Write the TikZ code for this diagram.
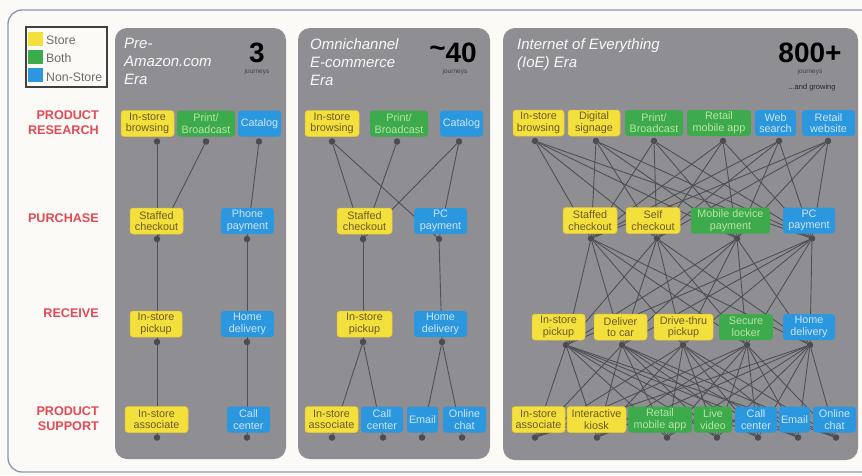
\documentclass[tikz,border=0pt]{standalone}
\usepackage{fontspec}
\setmainfont{Liberation Sans}
\pgfdeclarelayer{panels}
\pgfdeclarelayer{links}
\pgfsetlayers{panels,links,main}

\definecolor{pagebg}{HTML}{FBFAF6}
\definecolor{framec}{HTML}{8C94B4}
\definecolor{panelc}{HTML}{8F8F93}
\definecolor{cY}{HTML}{F4E03C}
\definecolor{cYe}{HTML}{E6C632}
\definecolor{tY}{HTML}{6A5B2A}
\definecolor{cG}{HTML}{3DAA4C}
\definecolor{tG}{HTML}{B8E4A8}
\definecolor{cB}{HTML}{2A97DE}
\definecolor{tB}{HTML}{CFE6F8}
\definecolor{edgec}{HTML}{4F5055}
\definecolor{dotc}{HTML}{4B4B50}
\definecolor{rowred}{HTML}{E24A55}
\definecolor{legtext}{HTML}{6C6C6C}

% a journey step: box plus its connection dot underneath
\newcommand{\jn}[7]{%
  \node[#2, minimum width=#5pt] (#1) at (#3,#4) {#6};
  \node[jdot] (#1d) at (#7,{#4+18}) {};
}

\begin{document}
\begin{tikzpicture}[x=1pt,y=-1pt,
  box/.style={rounded corners=3pt, minimum height=26pt, inner sep=1pt,
    align=center, font=\fontsize{10.8}{11.6}\selectfont},
  st/.style={box, fill=cY, draw=cYe, line width=0.5pt, text=tY},
  bo/.style={box, fill=cG, text=tG},
  ns/.style={box, fill=cB, text=tB},
  jdot/.style={circle, fill=dotc, inner sep=0pt, minimum size=6.5pt},
  link/.style={draw=edgec, line width=0.9pt},
  panel/.style={fill=panelc, rounded corners=12pt},
  era/.style={anchor=north west, inner sep=0pt, align=left, text=white!95!gray,
    font=\fontsize{15}{18}\selectfont\itshape},
  count/.style={anchor=base, inner sep=0pt, font=\fontsize{28}{28}\selectfont\bfseries},
  small/.style={anchor=base, inner sep=0pt, text=black!75, font=\fontsize{6.5}{7}\selectfont},
  rowlabel/.style={anchor=north east, inner sep=0pt, align=right, text=rowred,
    font=\fontsize{12.6}{15.5}\selectfont\bfseries},
  legsq/.style={minimum width=15pt, minimum height=14pt, inner sep=0pt},
  legtxt/.style={anchor=base west, inner sep=0pt, text=legtext, font=\fontsize{12.3}{13}\selectfont}
]
\useasboundingbox (0,0) rectangle (862,475);

\begin{pgfonlayer}{panels}
  \fill[pagebg] (0,0) rectangle (862,475);
  \draw[framec, line width=1.3pt, rounded corners=14pt] (8,10) rectangle (890,472);
  \fill[panel] (115,28) rectangle (286,459);
  \fill[panel] (298,28) rectangle (490,459);
  \fill[panel] (503,28) rectangle (858,460);
\end{pgfonlayer}

% legend
\draw[black!75, line width=1.1pt] (26,27) rectangle (107,87);
\node[legsq, fill=cY] (legY) at (35.5,39) {};
\node[legsq, fill=cG] (legG) at (35.5,57) {};
\node[legsq, fill=cB] (legB) at (35.5,75) {};
\node[legtxt] (legYt) at (46,44) {Store};
\node[legtxt] (legGt) at (46,62) {Both};
\node[legtxt] (legBt) at (46,81) {Non-Store};

% stage labels
\node[rowlabel] (lres) at (99,110) {PRODUCT\\RESEARCH};
\node[rowlabel] (lpur) at (99,213) {PURCHASE};
\node[rowlabel] (lrec) at (99,308) {RECEIVE};
\node[rowlabel] (lsup) at (99,406) {PRODUCT\\SUPPORT};

% era headers
\node[era] (h1) at (124,38) {Pre-\\Amazon.com\\Era};
\node[count] (n1) at (257,62) {3};
\node[small] (j1) at (257,73.5) {journeys};
\node[era] (h2) at (310,38) {Omnichannel\\E-commerce\\Era};
\node[count] (n2) at (453,62) {\raisebox{5pt}{\textasciitilde}40};
\node[small] (j2) at (455,73.5) {journeys};
\node[era] (h3) at (517,38) {Internet of Everything\\(IoE) Era};
\node[count] (n3) at (810,62) {800+};
\node[small] (j3) at (810,73) {journeys};
\node[small, font=\fontsize{7.5}{8}\selectfont, text=black!85] (g3) at (812,89) {...and growing};

% ---- pre-Amazon era
\jn{A1}{st}{147.5}{123.5}{53}{In-store\\browsing}{157}
\jn{A2}{bo}{206}{123.5}{58}{Print/\\Broadcast}{206}
\jn{A3}{ns}{259.5}{123.5}{43}{Catalog}{259}
\jn{A4}{st}{156.5}{221}{53}{Staffed\\checkout}{157}
\jn{A5}{ns}{247.5}{221}{53}{Phone\\payment}{247}
\jn{A6}{st}{156}{324}{52}{In-store\\pickup}{157}
\jn{A7}{ns}{247.5}{324}{53}{Home\\delivery}{247}
\jn{A8}{st}{156.5}{419.5}{63}{In-store\\associate}{157}
\jn{A9}{ns}{248.5}{419.5}{43}{Call\\center}{247}

% ---- omnichannel era
\jn{B1}{st}{332}{123.5}{54}{In-store\\browsing}{332}
\jn{B2}{bo}{399}{123.5}{58}{Print/\\Broadcast}{397}
\jn{B3}{ns}{461.5}{123.5}{43}{Catalog}{459}
\jn{B4}{st}{364.5}{221}{55}{Staffed\\checkout}{363}
\jn{B5}{ns}{440.5}{221}{53}{PC\\payment}{439}
\jn{B6}{st}{364.5}{324}{55}{In-store\\pickup}{363}
\jn{B7}{ns}{440.5}{324}{53}{Home\\delivery}{442}
\jn{B8}{st}{331.5}{419.5}{53}{In-store\\associate}{332}
\jn{B9}{ns}{382}{419.5}{42}{Call\\center}{383}
\jn{B10}{ns}{422.5}{419.5}{31}{Email}{422}
\jn{B11}{ns}{464.5}{419.5}{43}{Online\\chat}{462}

% ---- IoE era
\jn{C1}{st}{538.5}{123}{51}{In-store\\browsing}{535}
\jn{C2}{st}{594}{123}{52}{Digital\\signage}{596}
\jn{C3}{bo}{654}{123}{58}{Print/\\Broadcast}{654}
\jn{C4}{bo}{719}{123}{64}{Retail\\mobile app}{723}
\jn{C5}{ns}{775.5}{123}{41}{Web\\search}{779}
\jn{C6}{ns}{828.5}{123}{53}{Retail\\website}{828}
\jn{D1}{st}{590}{220.5}{54}{Staffed\\checkout}{591}
\jn{D2}{st}{653}{220.5}{54}{Self\\checkout}{657}
\jn{D3}{bo}{730.5}{220.5}{79}{Mobile device\\payment}{737}
\jn{D4}{ns}{809}{220.5}{52}{PC\\payment}{812}
\jn{E1}{st}{558.5}{327}{53}{In-store\\pickup}{566}
\jn{E2}{st}{620.5}{327}{53}{Deliver\\to car}{622}
\jn{E3}{st}{683.5}{327}{59}{Drive-thru\\pickup}{683}
\jn{E4}{bo}{746}{327}{54}{Secure\\locker}{747}
\jn{E5}{ns}{809}{327}{52}{Home\\delivery}{810}
\jn{F1}{st}{538.5}{419.5}{53}{In-store\\associate}{535}
\jn{F2}{st}{596.5}{419.5}{59}{Interactive\\kiosk}{597}
\jn{F3}{bo}{660}{419.5}{64}{Retail\\mobile app}{667}
\jn{F4}{bo}{713}{419.5}{38}{Live\\video}{717}
\jn{F5}{ns}{756}{419.5}{42}{Call\\center}{758}
\jn{F6}{ns}{794.5}{419.5}{31}{Email}{798}
\jn{F7}{ns}{834.5}{419.5}{43}{Online\\chat}{836}

% journey links, run dot to dot behind the boxes
\begin{pgfonlayer}{links}
  \foreach \a/\b in {A1/A4,A2/A4,A3/A5,A4/A6,A5/A7,A6/A8,A7/A9,
                     B1/B4,B1/B5,B2/B4,B3/B4,B3/B5,B4/B6,B5/B7,B6/B8,B6/B9,B7/B10,B7/B11}
    \draw[link] (\a d) -- (\b d);
  \foreach \a in {C1,C2,C3,C4,C5,C6}
    \foreach \b in {D1,D2,D3,D4}
      \draw[link] (\a d) -- (\b d);
  \foreach \a in {D1,D2,D3,D4}
    \foreach \b in {E1,E2,E3,E4,E5}
      \draw[link] (\a d) -- (\b d);
  \foreach \a in {E1,E2,E3,E4,E5}
    \foreach \b in {F1,F2,F3,F4,F5,F6,F7}
      \draw[link] (\a d) -- (\b d);
\end{pgfonlayer}
\end{tikzpicture}
\end{document}
